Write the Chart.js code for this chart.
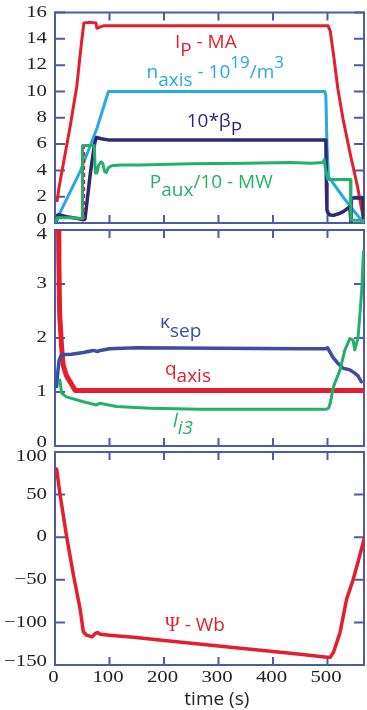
<!DOCTYPE html>
<html>
<head>
<meta charset="utf-8">
<script src="https://cdn.jsdelivr.net/npm/chart.js@4.4.1/dist/chart.umd.min.js"></script>
<style>
  html, body { margin: 0; padding: 0; background: #fff; }
  #wrap { position: relative; width: 367px; height: 710px; }
  #wrap canvas { position: absolute; left: 0; top: 0; }
</style>
</head>
<body>
<div id="wrap">
  <canvas id="topChart" width="367" height="710"></canvas>
  <canvas id="midChart" width="367" height="710"></canvas>
  <canvas id="botChart" width="367" height="710"></canvas>
</div>
<script>
// time axis
const xTicks = [0, 100, 200, 300, 400, 500];
const xMax = 567;

// top panel
const topTicks = [0, 2, 4, 6, 8, 10, 12, 14, 16];
const ipT = [4, 7, 28, 40, 48, 53, 66, 75, 77, 80, 90, 200, 350, 501, 505, 512, 519, 529, 543, 555, 566];
const ipV = [1.7, 2.6, 7.4, 10.4, 13.5, 15.2, 15.25, 15.2, 14.8, 14.85, 15.0, 15.0, 15.0, 15.0, 14.6, 12.5, 10.2, 7.8, 5.0, 2.8, 0.3];
const nT = [0, 46, 77, 98, 495, 497, 499, 502, 530, 566];
const nV = [0, 3.9, 7.2, 10, 10, 9.7, 6, 3.5, 1.9, 0];
const betaT = [2, 5, 10, 25, 40, 52, 55, 59, 64, 69, 73, 76, 85, 100, 497, 498, 499, 501, 505, 511, 520, 529, 538, 541, 543, 544, 565, 566];
const betaV = [0, 0.6, 0.6, 0.45, 0.35, 0.25, 0.3, 1.7, 3.5, 5.0, 6.1, 6.5, 6.4, 6.3, 6.3, 3.0, 1.0, 0.75, 0.6, 0.58, 0.7, 0.87, 1.15, 1.25, 0.05, 1.9, 1.9, 0.3];
const pauxT = [2, 4, 30, 50, 50.5, 72, 74, 77, 80, 85, 88, 91, 94, 98, 104, 120, 156, 250, 350, 431, 470, 492, 494, 496, 499, 501, 542, 543, 566];
const pauxV = [0.1, 0.4, 0.4, 0.35, 5.9, 5.9, 3.8, 3.8, 4.4, 4.65, 4.5, 3.9, 3.85, 4.2, 4.35, 4.4, 4.4, 4.5, 4.55, 4.6, 4.55, 4.6, 4.8, 4.2, 3.6, 3.3, 3.3, 0.2, 0.2];
const markT = [54, 54];
const markV = [0.3, 5.8];

// middle panel
const midTicks = [0, 1, 2, 3, 4];
const qT = [6, 7, 8.5, 12, 15, 21, 37, 567];
const qV = [4.5, 3.5, 2.45, 1.85, 1.5, 1.3, 1.03, 1.03];
const kapT = [3, 5, 7.5, 12, 30, 52, 70, 78, 83, 100, 150, 300, 450, 497, 500, 510, 520, 529, 541, 550, 556, 562];
const kapV = [1.1, 1.35, 1.59, 1.69, 1.7, 1.73, 1.77, 1.75, 1.77, 1.8, 1.82, 1.81, 1.8, 1.8, 1.82, 1.64, 1.52, 1.44, 1.41, 1.35, 1.3, 1.19];
const liT = [9, 12, 21, 52, 76, 82, 113, 175, 266, 497, 502, 505, 511, 523, 532, 541, 547, 550, 556, 560, 563, 566];
const liV = [1.22, 0.98, 0.91, 0.82, 0.76, 0.79, 0.73, 0.7, 0.68, 0.68, 0.7, 0.79, 1.1, 1.41, 1.78, 1.99, 1.96, 1.78, 2.0, 2.5, 2.92, 3.6];

// bottom panel
const botTicks = [-150, -100, -50, 0, 50, 100];
const psiT = [3, 9, 21, 34, 46, 52, 58, 68, 74, 78, 84, 100, 144, 205, 327, 450, 499, 505, 511, 523, 535, 547, 559, 568];
const psiV = [80, 51, 2, -45, -84, -111, -115, -117, -113, -112, -114, -115, -117.5, -121.5, -129.5, -137.5, -141, -141, -135, -112, -73, -50, -22, 0];

const RED = '#e41f2b', LBLUE = '#27aae1', NAVY = '#2d2977', GREEN = '#22b169', KBLUE = '#3a4ea3';
const FRAME = '#4b5ba9';
const NOTE_FONT = '19px "Open Sans"';
const SUP_FONT = '17px "Open Sans"';

function pts(t, v) {
  return t.map((x, i) => ({ x: x, y: v[i] }));
}

function line(t, v, color, width, extra) {
  return Object.assign({
    data: pts(t, v),
    borderColor: color,
    borderWidth: width,
    pointRadius: 0,
    tension: 0,
    borderJoinStyle: 'round',
    borderCapStyle: 'round',
    fill: false
  }, extra || {});
}

function fmt(v) {
  return String(v).replace('-', '\u2212');
}

function drawRich(ctx, x0, y0, parts, color) {
  ctx.fillStyle = color;
  ctx.textAlign = 'left';
  ctx.textBaseline = 'alphabetic';
  let x = x0;
  parts.forEach(p => {
    ctx.font = p.font || NOTE_FONT;
    ctx.fillText(p.t, x, y0 + (p.dy || 0));
    x += ctx.measureText(p.t).width;
  });
}

const framePlugin = {
  id: 'frame',
  beforeDatasetsDraw(chart, args, opts) {
    const ctx = chart.ctx, a = chart.chartArea;
    const x = chart.scales.x, y = chart.scales.y;
    ctx.save();
    ctx.strokeStyle = FRAME;
    ctx.lineWidth = 2;
    ctx.strokeRect(a.left, a.top, a.right - a.left, a.bottom - a.top);
    ctx.beginPath();
    xTicks.forEach(v => {
      const px = x.getPixelForValue(v);
      ctx.moveTo(px, a.top); ctx.lineTo(px, a.top + 8);
      ctx.moveTo(px, a.bottom); ctx.lineTo(px, a.bottom - 8);
    });
    opts.ticks.forEach(v => {
      const py = y.getPixelForValue(v);
      ctx.moveTo(a.left, py); ctx.lineTo(a.left + 10, py);
      ctx.moveTo(a.right, py); ctx.lineTo(a.right - 10, py);
    });
    ctx.stroke();

    // tick labels, Times-like and a bit wide
    ctx.fillStyle = '#231f20';
    ctx.font = '16px "Liberation Serif"';
    ctx.textAlign = 'right';
    ctx.textBaseline = 'middle';
    opts.ticks.forEach(v => {
      let py = y.getPixelForValue(v);
      if (Math.abs(py - a.bottom) < 1) py -= 3;
      if (Math.abs(py - a.top) < 1 && !opts.first) py += 5;
      ctx.save();
      ctx.translate(47, py);
      ctx.scale(1.3, 1);
      ctx.fillText(fmt(v), 0, 0);
      ctx.restore();
    });
    if (opts.xLabels) {
      ctx.textAlign = 'center';
      xTicks.forEach(v => {
        ctx.save();
        ctx.translate(x.getPixelForValue(v) - 1.5, a.bottom + 13);
        ctx.scale(1.3, 1);
        ctx.fillText(String(v), 0, 0);
        ctx.restore();
      });
      ctx.fillStyle = '#231f20';
      ctx.font = NOTE_FONT;
      ctx.textBaseline = 'alphabetic';
      ctx.fillText('time (s)', x.getPixelForValue(297), a.bottom + 40);
    }
    ctx.restore();
  },
  afterDatasetsDraw(chart, args, opts) {
    const ctx = chart.ctx;
    const x = chart.scales.x, y = chart.scales.y;
    ctx.save();
    (opts.notes || []).forEach(n => {
      drawRich(ctx, x.getPixelForValue(n.at[0]), y.getPixelForValue(n.at[1]), n.parts, n.color);
    });
    ctx.restore();
  }
};

function makePanel(id, datasets, yMin, yMax, top, bottom, frameOpts) {
  return new Chart(document.getElementById(id), {
    type: 'line',
    data: { datasets: datasets },
    options: {
      responsive: false,
      animation: false,
      events: [],
      layout: { padding: { left: 55, right: 3, top: top, bottom: 710 - bottom } },
      scales: {
        x: { type: 'linear', min: 0, max: xMax, display: false },
        y: { type: 'linear', min: yMin, max: yMax, display: false }
      },
      plugins: {
        legend: { display: false },
        tooltip: { enabled: false },
        frame: frameOpts
      }
    },
    plugins: [framePlugin]
  });
}

makePanel('topChart', [
  line(markT, markV, RED, 1.5, { borderDash: [4, 3], borderCapStyle: 'butt' }),
  line(pauxT, pauxV, GREEN, 3),
  line(betaT, betaV, NAVY, 3.5),
  line(nT, nV, LBLUE, 3),
  line(ipT, ipV, RED, 3)
], 0, 16, 12.5, 223, {
  ticks: topTicks, first: true,
  notes: [
    { at: [220, 13.27], color: RED, parts: [{ t: 'I' }, { t: 'P', dy: 8 }, { t: ' - MA' }] },
    { at: [168, 11.0], color: LBLUE, parts: [{ t: 'n' }, { t: 'axis', dy: 8 }, { t: ' - 10' }, { t: '19', dy: -10, font: SUP_FONT }, { t: '/m' }, { t: '3', dy: -10, font: SUP_FONT }] },
    { at: [241.6, 7.32], color: NAVY, parts: [{ t: '10*\u03b2' }, { t: 'P', dy: 8 }] },
    { at: [174, 2.64], color: GREEN, parts: [{ t: 'P' }, { t: 'aux', dy: 8 }, { t: '/10 - MW' }] }
  ]
});

makePanel('midChart', [
  line(liT, liV, GREEN, 3),
  line(kapT, kapV, KBLUE, 3.5),
  line(qT, qV, RED, 5)
], 0, 4, 230, 446, {
  ticks: midTicks,
  notes: [
    { at: [192.7, 2.18], color: KBLUE, parts: [{ t: '\u03ba' }, { t: 'sep', dy: 9 }] },
    { at: [201.8, 1.31], color: RED, parts: [{ t: 'q' }, { t: 'axis', dy: 7 }] },
    { at: [216.5, 0.357], color: GREEN, parts: [{ t: 'l', font: 'italic 19px "Open Sans"' }, { t: 'i3', dy: 7, font: 'italic 19px "Open Sans"' }] }
  ]
});

makePanel('botChart', [
  line(psiT, psiV, RED, 3.5)
], -150, 100, 452, 665, {
  ticks: botTicks, xLabels: true,
  notes: [
    { at: [201.8, -109.6], color: RED, parts: [{ t: '\u03a8', font: '20px "Liberation Serif"' }, { t: ' - Wb' }] }
  ]
});
</script>
</body>
</html>
